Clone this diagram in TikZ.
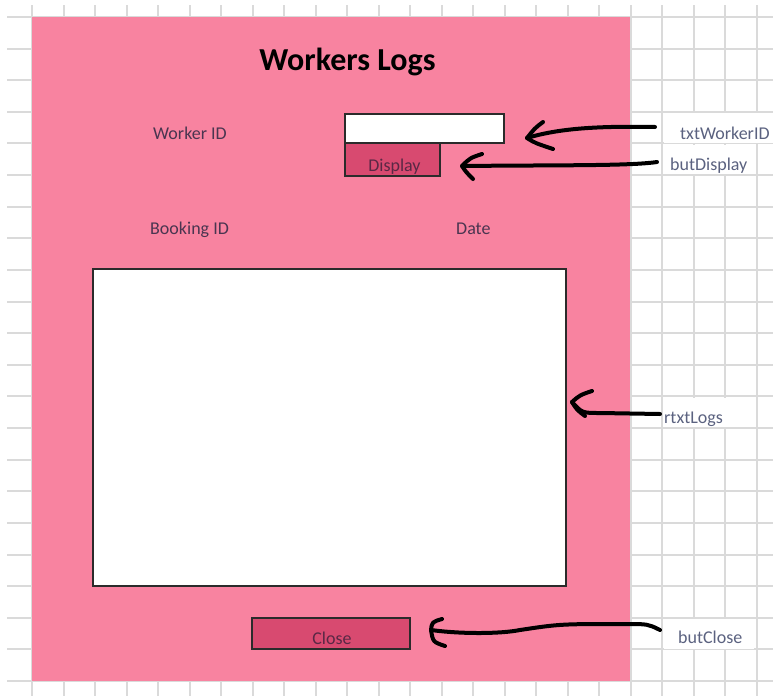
\documentclass[tikz,border=0pt]{standalone}
\usepackage{fontspec}
\setmainfont{Carlito}
\usetikzlibrary{calc}
\definecolor{panelpink}{HTML}{F883A0}
\definecolor{buttonpink}{HTML}{D84A70}
\definecolor{edgegray}{HTML}{2B2B2B}
\definecolor{gridgray}{HTML}{DADADA}
\definecolor{formtext}{HTML}{4A3550}
\definecolor{buttext}{HTML}{5A2845}
\definecolor{nametext}{HTML}{5B6280}
\tikzset{
  gridline/.style={draw=gridgray, line width=2pt},
  fieldbox/.style={draw=edgegray, line width=2pt, fill=white, inner sep=0pt},
  buttonbox/.style={draw=edgegray, line width=2pt, fill=buttonpink, inner sep=0pt},
  formlabel/.style={anchor=base west, inner sep=0pt, text=formtext, font=\fontsize{18}{22}\selectfont},
  buttonlabel/.style={anchor=base, inner sep=0pt, text=buttext, font=\fontsize{18}{22}\selectfont},
  namelabel/.style={anchor=base west, inner sep=0pt, text=nametext, font=\fontsize{18}{22}\selectfont},
  hand/.style={draw=black, line width=4pt, line cap=round, line join=round},
}
\begin{document}
\begin{tikzpicture}[x=1pt, y=-1pt]
\useasboundingbox (0,0) rectangle (773,696);

% spreadsheet grid behind the form
\begin{scope}
  \clip (7,5) rectangle (773,696);
  \foreach \i in {0,...,23}
    \draw[gridline] ({32+31.5*\i},5) -- ({32+31.5*\i},696);
  \foreach \j in {0,...,21}
    \draw[gridline] (7,{17+31.62*\j}) -- (773,{17+31.62*\j});
\end{scope}

% form background
\fill[panelpink] (32,17) rectangle (630,681);

% cells holding the control names
\fill[white] (663.5,113) rectangle (773,142.5);
\fill[white] (663.5,144.5) rectangle (754,174);
\fill[white] (663.5,397.5) rectangle (754,427);
\fill[white] (663.5,619) rectangle (754,648.5);

% title and captions
\node[anchor=base, inner sep=0pt, font=\fontsize{32}{38}\selectfont\bfseries] (title) at (347.5,70) {Workers Logs};
\node[formlabel] (lblWorker) at (153,139) {Worker ID};
\node[formlabel] (lblBooking) at (150,234) {Booking ID};
\node[formlabel] (lblDate) at (456,234) {Date};

% controls
\node[fieldbox, minimum width=159pt, minimum height=29pt] (txtWorker) at (424.5,128.5) {};
\node[buttonbox, minimum width=95pt, minimum height=33pt] (butDisplay) at (392.5,159.5) {};
\node[buttonlabel] (butDisplayText) at (394.5,171) {Display};
\node[fieldbox, minimum width=473pt, minimum height=317pt] (rtxtLogs) at (329.5,427.5) {};
\node[buttonbox, minimum width=158pt, minimum height=31pt] (butClose) at (331,633.5) {};
\node[buttonlabel] (butCloseText) at (332,644) {Close};

% control names
\node[namelabel] (nTxt) at (680,139) {txtWorkerID};
\node[namelabel] (nBut) at (670,170) {butDisplay};
\node[namelabel] (nLogs) at (664,423) {rtxtLogs};
\node[namelabel] (nClose) at (678,643) {butClose};

% arrow ends
\coordinate (sTxt) at ($(nTxt.base west)+(-25,-12)$);
\coordinate (tTxt) at ($(txtWorker.east)+(22,9.5)$);
\coordinate (sBut) at ($(nBut.base west)+(-13,-8)$);
\coordinate (tBut) at ($(butDisplay.east)+(21,6.5)$);
\coordinate (sLogs) at ($(nLogs.base west)+(-4,-9)$);
\coordinate (tLogs) at ($(rtxtLogs.east)+(5,-25.5)$);
\coordinate (sClose) at ($(nClose.base west)+(-18,-13)$);
\coordinate (tClose) at ($(butClose.east)+(20,-3.5)$);

% hand-drawn pointers
\draw[hand] (sTxt) .. controls (600,126) and (560,128) .. (tTxt);
\draw[hand] (543,122) .. controls (535,128) .. (tTxt) .. controls (535,143) .. (553,149);

\draw[hand] (sBut) .. controls (630,166) and (560,165) .. (tBut);
\draw[hand] (482,154) .. controls (470,158) .. (tBut) .. controls (466,172) .. (473,179);

\draw[hand] (sLogs) -- (600,413) .. controls (582,413) .. (tLogs);
\draw[hand] (592,391) .. controls (580,395) .. (tLogs) .. controls (577,410) .. (585,416);

\draw[hand] (sClose) .. controls (648,624) .. (625,624) .. controls (560,624) .. (520,630)
  .. controls (500,634) and (460,634) .. (tClose);
\draw[hand] (442,619) .. controls (432,622) .. (tClose) .. controls (433,642) .. (445,646);
\end{tikzpicture}
\end{document}
